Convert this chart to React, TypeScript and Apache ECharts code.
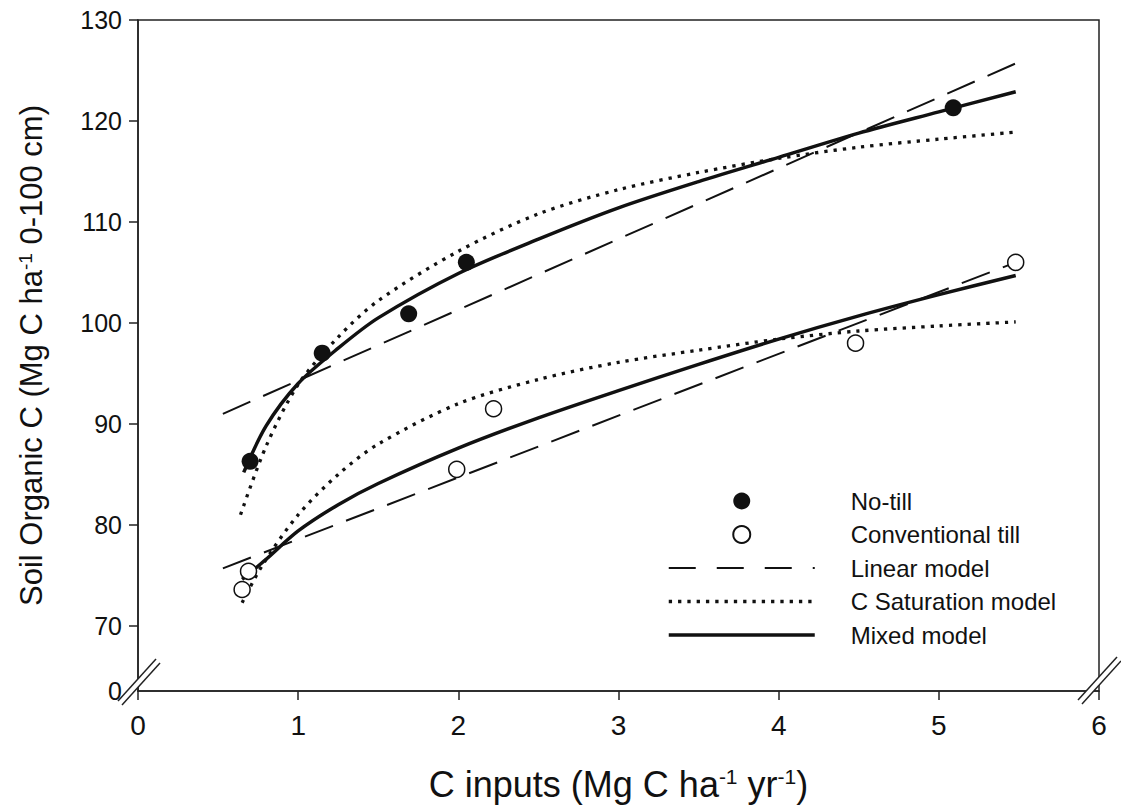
import React, { useEffect, useRef } from 'react';
import * as echarts from 'echarts';

// ---- data ----
const xTicks = [0, 1, 2, 3, 4, 5, 6];
const yTicks = [70, 80, 90, 100, 110, 120, 130];
const yBreakValue = 63.55; // bottom of the broken axis, labelled "0"
const yBreakLabel = '0';

const noTill = [[0.70, 86.3], [1.15, 97.0], [1.69, 100.9], [2.05, 106.0], [5.09, 121.3]];
const convTill = [[0.65, 73.6], [0.69, 75.4], [1.99, 85.5], [2.22, 91.5], [4.48, 98.0], [5.48, 106.0]];

const ntLinear = [[0.53, 91.0], [5.48, 125.7]];
const ctLinear = [[0.53, 75.7], [5.48, 106.0]];

const ntSaturation = [[0.64, 81.0], [0.8, 87.8], [1.0, 93.9], [1.25, 98.6], [1.5, 102.2], [2.0, 107.1], [2.5, 110.8], [3.0, 113.2], [3.5, 114.9], [4.0, 116.3], [4.5, 117.4], [5.0, 118.2], [5.48, 118.9]];
const ctSaturation = [[0.65, 72.3], [0.78, 76.1], [1.0, 81.0], [1.25, 85.0], [1.5, 88.0], [2.0, 92.0], [2.5, 94.4], [3.0, 96.1], [3.5, 97.3], [4.0, 98.4], [4.5, 99.2], [5.0, 99.7], [5.48, 100.1]];

const ntMixed = [[0.66, 85.2], [0.8, 89.8], [1.0, 94.0], [1.25, 97.5], [1.5, 100.5], [2.0, 104.9], [2.5, 108.3], [3.0, 111.4], [3.5, 114.0], [4.0, 116.4], [4.5, 118.8], [5.0, 120.9], [5.48, 122.9]];
const ctMixed = [[0.65, 74.6], [0.8, 76.6], [1.0, 79.4], [1.25, 82.0], [1.5, 84.1], [2.0, 87.6], [2.5, 90.6], [3.0, 93.3], [3.5, 95.9], [4.0, 98.4], [4.5, 100.7], [5.0, 102.8], [5.48, 104.7]];

const legendNames = ['No-till', 'Conventional till', 'Linear model', 'C Saturation model', 'Mixed model'];
const xTitle = 'C inputs (Mg C ha{s|-1} yr{s|-1})';
const yTitle = 'Soil Organic C (Mg C ha{s|-1} 0-100 cm)';

const FONT = '"Liberation Sans", Arial, Helvetica, sans-serif';
const INK = '#111';
const AXIS = '#222';

const dashed = { color: INK, width: 2, type: [30, 14] as any };
const dotted = { color: INK, width: 3.3, type: [3.3, 6] as any, cap: 'butt' as const };
const solid = { color: INK, width: 3.5, type: 'solid' as const };

function buildOption(): any {
  const lineBase = { type: 'line', symbol: 'none', showSymbol: false, silent: true, z: 2, itemStyle: { color: INK } };
  const hiddenSymbol = { opacity: 0 };
  return {
    animation: false,
    backgroundColor: '#fff',
    grid: {
      left: 138, right: 22, top: 20, bottom: 117,
      show: true, borderColor: AXIS, borderWidth: 1.5,
      containLabel: false, outerBoundsMode: 'none',
    },
    xAxis: {
      type: 'value', min: xTicks[0], max: xTicks[xTicks.length - 1], interval: 1,
      axisLine: { show: true, onZero: false, lineStyle: { color: AXIS, width: 1.5 } },
      axisTick: { show: true, inside: false, length: 9, lineStyle: { color: AXIS, width: 1.5 } },
      axisLabel: { fontSize: 28, color: INK, margin: 20, fontFamily: FONT },
      splitLine: { show: false },
      name: xTitle, nameLocation: 'middle', nameGap: 75, nameMoveOverlap: false,
      nameTextStyle: {
        fontSize: 36, fontFamily: FONT, color: INK,
        rich: { s: { fontSize: 21, fontFamily: FONT, color: INK, verticalAlign: 'top' } },
      },
    },
    yAxis: {
      type: 'value', min: yBreakValue, max: yTicks[yTicks.length - 1],
      axisLine: { show: true, onZero: false, lineStyle: { color: AXIS, width: 1.5 } },
      axisTick: { show: true, inside: false, length: 9, customValues: yTicks, lineStyle: { color: AXIS, width: 1.5 } },
      axisLabel: {
        fontSize: 25, color: INK, margin: 16, fontFamily: FONT,
        customValues: [yBreakValue, ...yTicks],
        formatter: (v: number) => (v < yTicks[0] - 1 ? yBreakLabel : String(Math.round(v))),
      },
      splitLine: { show: false },
      name: yTitle, nameLocation: 'middle', nameRotate: 90, nameGap: 91, nameMoveOverlap: false,
      nameTextStyle: {
        fontSize: 31, fontFamily: FONT, color: INK,
        rich: { s: { fontSize: 19, fontFamily: FONT, color: INK, verticalAlign: 'top' } },
      },
    },
    legend: {
      orient: 'vertical', left: 662, top: 484,
      itemWidth: 146, itemHeight: 17, itemGap: 9.5,
      selectedMode: false,
      textStyle: { fontSize: 24, fontFamily: FONT, color: INK, padding: [0, 0, 0, 31] },
      data: [
        { name: legendNames[0] },
        { name: legendNames[1] },
        { name: legendNames[2], itemStyle: hiddenSymbol, lineStyle: { type: [27, 21], width: 2, color: INK } },
        { name: legendNames[3], itemStyle: hiddenSymbol, lineStyle: { type: [3.3, 6], width: 3.3, color: INK } },
        { name: legendNames[4], itemStyle: hiddenSymbol, lineStyle: { width: 3.5, color: INK } },
      ],
    },
    series: [
      { ...lineBase, name: legendNames[2], data: ntLinear, lineStyle: dashed },
      { ...lineBase, name: legendNames[2], data: ctLinear, lineStyle: dashed },
      { ...lineBase, name: legendNames[3], data: ntSaturation, smooth: 0.3, lineStyle: dotted },
      { ...lineBase, name: legendNames[3], data: ctSaturation, smooth: 0.3, lineStyle: dotted },
      { ...lineBase, name: legendNames[4], data: ntMixed, smooth: 0.3, lineStyle: solid },
      { ...lineBase, name: legendNames[4], data: ctMixed, smooth: 0.3, lineStyle: solid },
      {
        type: 'scatter', name: legendNames[0], data: noTill, symbol: 'circle', symbolSize: 17, z: 5,
        itemStyle: { color: INK, opacity: 1 }, silent: true,
      },
      {
        type: 'scatter', name: legendNames[1], data: convTill, symbol: 'circle', symbolSize: 16, z: 5,
        itemStyle: { color: '#fff', borderColor: INK, borderWidth: 1.5, opacity: 1 }, silent: true,
      },
    ],
    graphic: [
      // axis break marks (decoration)
      { type: 'polygon', shape: { points: [[118, 701], [156, 659], [160, 663], [122, 705]] }, style: { fill: '#fff' }, z: 100 },
      { type: 'line', shape: { x1: 118, y1: 701, x2: 156, y2: 659 }, style: { stroke: AXIS, lineWidth: 1.5 }, z: 101 },
      { type: 'line', shape: { x1: 122, y1: 705, x2: 160, y2: 663 }, style: { stroke: AXIS, lineWidth: 1.5 }, z: 101 },
      { type: 'polygon', shape: { points: [[1078, 700], [1117, 657], [1121, 661], [1082, 704]] }, style: { fill: '#fff' }, z: 100 },
      { type: 'line', shape: { x1: 1078, y1: 700, x2: 1117, y2: 657 }, style: { stroke: AXIS, lineWidth: 1.5 }, z: 101 },
      { type: 'line', shape: { x1: 1082, y1: 704, x2: 1121, y2: 661 }, style: { stroke: AXIS, lineWidth: 1.5 }, z: 101 },
    ],
  };
}

export default function App() {
  const ref = useRef<HTMLDivElement>(null);
  useEffect(() => {
    document.body.style.margin = '0';
    const chart = echarts.init(ref.current!, null, { renderer: 'svg' });
    chart.setOption(buildOption());
    return () => chart.dispose();
  }, []);
  return (
    <div
      ref={ref}
      style={{ width: 1121, height: 808, position: 'absolute', left: 0, top: 0, background: '#fff' }}
    />
  );
}
